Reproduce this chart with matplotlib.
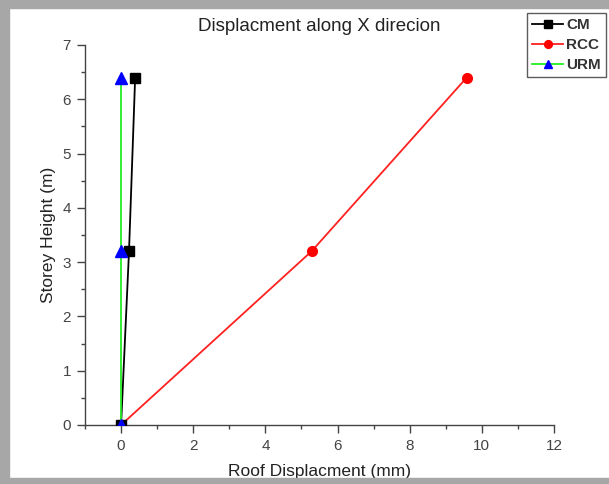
import matplotlib
matplotlib.use("Agg")
import matplotlib.pyplot as plt
from matplotlib.patches import Rectangle
from matplotlib.ticker import MultipleLocator, FixedLocator

# Storey heights (m) and roof displacement (mm) for each wall system
height = [0.0, 3.2, 6.4]
disp_cm = [0.0, 0.22, 0.39]
disp_rcc = [0.0, 5.28, 9.58]
disp_urm = [0.0, 0.0, 0.0]

x_ticks = [0, 2, 4, 6, 8, 10, 12]
y_ticks = [0, 1, 2, 3, 4, 5, 6, 7]

plt.rcParams['font.family'] = ['Liberation Sans', 'DejaVu Sans']

fig = plt.figure(figsize=(6.09, 4.84), dpi=100)
fig.patch.set_facecolor('white')

# grey frame on the top, left and bottom edges
frame = '#a7a7a7'
fig.patches.append(Rectangle((0, 1 - 8 / 484), 1, 8 / 484, transform=fig.transFigure,
                             color=frame, zorder=0))
fig.patches.append(Rectangle((0, 0), 9 / 609, 1, transform=fig.transFigure,
                             color=frame, zorder=0))
fig.patches.append(Rectangle((0, 0), 1, 6 / 484, transform=fig.transFigure,
                             color=frame, zorder=0))

ax = fig.add_axes([85 / 609, 59 / 484, 469 / 609, 380 / 484])

ax.plot(disp_rcc, height, color='#ff2020', lw=1.3, marker='o', ms=7,
        mfc='#ff0000', mec='#ff0000', label='RCC', zorder=3)
ax.plot(disp_cm, height, color='black', lw=1.3, marker='s', ms=7,
        mfc='black', mec='black', label='CM', zorder=3)
ax.plot(disp_urm, height, color='#22ee22', lw=1.3, marker='^', ms=8,
        mfc='#0000ff', mec='#0000ff', label='URM', zorder=4)

ax.set_xlim(-1, 12)
ax.set_ylim(0, 7)
ax.xaxis.set_major_locator(FixedLocator(x_ticks))
ax.yaxis.set_major_locator(FixedLocator(y_ticks))
ax.xaxis.set_minor_locator(MultipleLocator(1))
ax.yaxis.set_minor_locator(MultipleLocator(0.5))

for side in ('top', 'right'):
    ax.spines[side].set_visible(False)
for side in ('left', 'bottom'):
    ax.spines[side].set_color('#444444')
    ax.spines[side].set_linewidth(1.0)

ax.tick_params(which='major', direction='out', length=6, width=1.0,
               color='#444444', labelsize=11, labelcolor='#444444', pad=4)
ax.tick_params(which='minor', direction='out', length=3, width=1.0,
               color='#444444')

ax.set_title('Displacment along X direcion', fontsize=13.5, color='#222222', pad=10)
ax.set_xlabel('Roof Displacment (mm)', fontsize=12.5, color='#222222', labelpad=8)
ax.set_ylabel('Storey Height (m)', fontsize=12.5, color='#222222', labelpad=5)

handles, labels = ax.get_legend_handles_labels()
order = [1, 0, 2]
leg = fig.legend([handles[i] for i in order], [labels[i] for i in order],
                 loc='upper left', bbox_to_anchor=(527 / 609, 1 - 13 / 484),
                 prop={'size': 11, 'weight': 'bold'}, frameon=True, fancybox=False,
                 borderpad=0.35, handlelength=2.0, handletextpad=0.2,
                 labelspacing=0.38, borderaxespad=0, markerscale=0.8)
leg.get_frame().set_edgecolor('#333333')
leg.get_frame().set_linewidth(1.0)
for t in leg.get_texts():
    t.set_color('#333333')

fig.savefig('out.png', dpi=100)
